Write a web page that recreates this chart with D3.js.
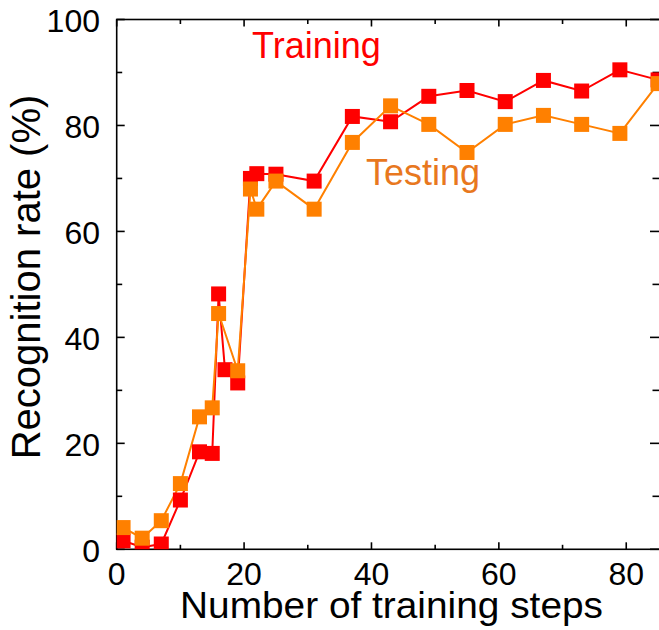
<!DOCTYPE html>
<html>
<head>
<meta charset="utf-8">
<script src="https://cdn.jsdelivr.net/npm/d3@7"></script>
<style>
  html, body { margin: 0; padding: 0; background: #fff; }
  svg { display: block; font-family: 'Liberation Sans', Arial, sans-serif; }
</style>
</head>
<body>
<svg id="chart" width="659" height="630"></svg>
<script>
// training steps where each curve was sampled
const trainSteps = [1, 4, 7, 10, 13, 15, 16, 17, 19, 21, 22, 25, 31, 37, 43, 49, 55, 61, 67, 73, 79, 85]
const trainRate = [1.6, 0.4, 1.0, 9.3, 18.4, 18.1, 48.2, 33.9, 31.4, 70.0, 70.9, 70.8, 69.5, 81.7, 80.7, 85.5, 86.6, 84.5, 88.5, 86.5, 90.5, 88.6]

const testSteps = [1, 4, 7, 10, 13, 15, 16, 19, 21, 22, 25, 31, 37, 43, 49, 55, 61, 67, 73, 79, 85]
const testRate = [4.1, 2.1, 5.4, 12.4, 25.0, 26.7, 44.5, 33.7, 68.0, 64.2, 69.5, 64.2, 76.8, 83.7, 80.2, 74.9, 80.2, 81.9, 80.2, 78.5, 87.9]

const xTicks = [0, 20, 40, 60, 80]
const yTicks = [0, 20, 40, 60, 80, 100]

const svg = d3.select('#chart')

const m = { left: 116.7, top: 19.5, bottom: 549.3, right: 660 }

const x = d3.scaleLinear().domain([0, 85.3]).range([m.left, m.right])
const y = d3.scaleLinear().domain([0, 100]).range([m.bottom, m.top])

svg.append('defs').append('clipPath')
    .attr('id', 'plot')
    .append('rect')
    .attr('x', m.left)
    .attr('y', m.top)
    .attr('width', m.right - m.left)
    .attr('height', m.bottom - m.top)

// frame with inward ticks on all four sides
const minorX = d3.range(0, 90, 10)
const minorY = d3.range(0, 101, 10)
const tickLen = v => (v % 20 === 0 ? 7 : 4.5)

const frame = svg.append('g')
    .attr('stroke', '#000')
    .attr('stroke-width', 1.6)

frame.append('rect')
    .attr('x', m.left)
    .attr('y', m.top)
    .attr('width', m.right - m.left)
    .attr('height', m.bottom - m.top)
    .attr('fill', 'none')

frame.selectAll('.tb')
    .data(minorX)
    .enter()
    .append('line')
    .attr('x1', d => x(d)).attr('x2', d => x(d))
    .attr('y1', m.bottom).attr('y2', d => m.bottom - tickLen(d))

frame.selectAll('.tt')
    .data(minorX)
    .enter()
    .append('line')
    .attr('x1', d => x(d)).attr('x2', d => x(d))
    .attr('y1', m.top).attr('y2', d => m.top + tickLen(d))

frame.selectAll('.tl')
    .data(minorY)
    .enter()
    .append('line')
    .attr('y1', d => y(d)).attr('y2', d => y(d))
    .attr('x1', m.left).attr('x2', d => m.left + tickLen(d) + 1)

frame.selectAll('.tr')
    .data(minorY)
    .enter()
    .append('line')
    .attr('y1', d => y(d)).attr('y2', d => y(d))
    .attr('x1', m.right).attr('x2', d => m.right - tickLen(d) - 3)

// tick labels
svg.append('g')
    .selectAll('text')
    .data(xTicks)
    .enter()
    .append('text')
    .attr('x', d => x(d))
    .attr('y', 585)
    .attr('text-anchor', 'middle')
    .style('font-size', '32px')
    .text(d => d)

svg.append('g')
    .selectAll('text')
    .data(yTicks)
    .enter()
    .append('text')
    .attr('x', 100)
    .attr('y', d => y(d) + 12.5)
    .attr('text-anchor', 'end')
    .style('font-size', '32px')
    .text(d => d)

svg.append('text')
    .attr('x', 391.5)
    .attr('y', 617.5)
    .attr('text-anchor', 'middle')
    .attr('textLength', 423)
    .attr('lengthAdjust', 'spacingAndGlyphs')
    .style('font-size', '36px')
    .text('Number of training steps')

svg.append('text')
    .attr('transform', 'translate(40,277)rotate(-90)')
    .attr('text-anchor', 'middle')
    .style('font-size', '40px')
    .text('Recognition rate (%)')

// series
const series = [
    { steps: trainSteps, rate: trainRate, color: '#ff0000' },
    { steps: testSteps, rate: testRate, color: '#ff8000' }
]

const line = d3.line()
    .x(d => x(d[0]))
    .y(d => y(d[1]))

const plot = svg.append('g').attr('clip-path', 'url(#plot)')
const size = 15

series.forEach(s => {
    const pts = s.steps.map((v, i) => [v, s.rate[i]])
    plot.append('path')
        .datum(pts)
        .attr('fill', 'none')
        .attr('stroke', s.color)
        .attr('stroke-width', 2)
        .attr('d', line)
})

series.forEach(s => {
    const pts = s.steps.map((v, i) => [v, s.rate[i]])
    plot.append('g')
        .selectAll('rect')
        .data(pts)
        .enter()
        .append('rect')
        .attr('x', d => x(d[0]) - size / 2)
        .attr('y', d => y(d[1]) - size / 2)
        .attr('width', size)
        .attr('height', size)
        .attr('fill', s.color)
})

svg.append('text')
    .attr('x', 252)
    .attr('y', 58)
    .attr('fill', '#ff0000')
    .style('font-size', '36px')
    .text('Training')

svg.append('text')
    .attr('x', 366)
    .attr('y', 185)
    .attr('fill', '#e8781e')
    .style('font-size', '36px')
    .text('Testing')
</script>
</body>
</html>
